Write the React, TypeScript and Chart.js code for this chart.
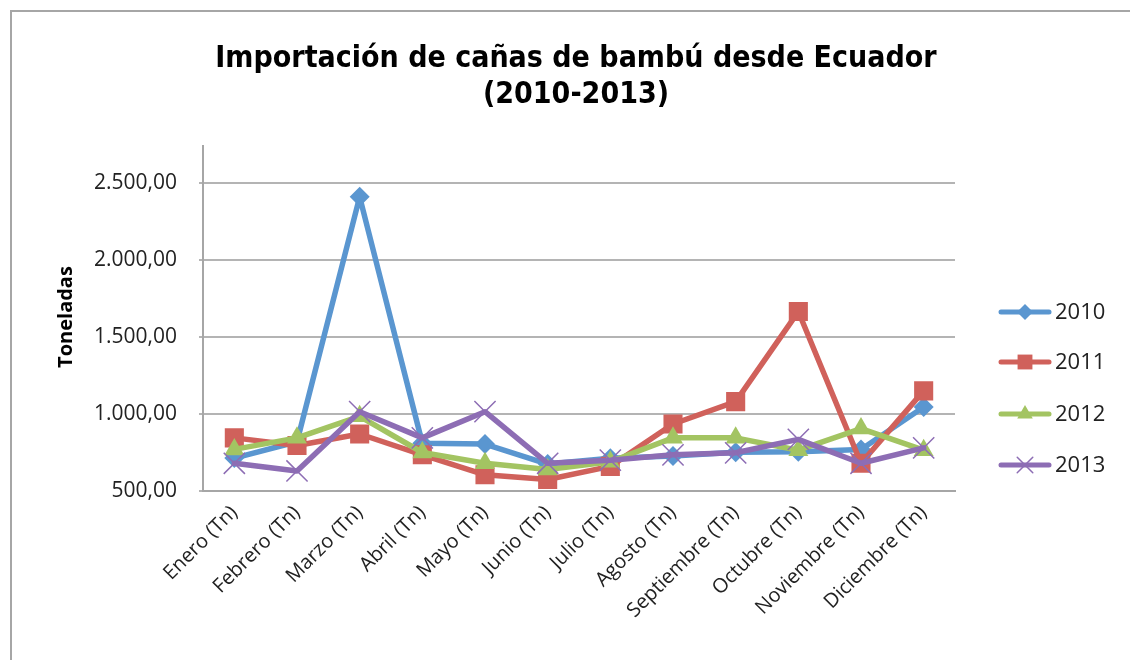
import React, { useEffect, useRef } from 'react';
import { Chart, registerables } from 'chart.js';

Chart.register(...registerables);

const titleLines = ['Importación de cañas de bambú desde Ecuador', '(2010-2013)'];
const yAxisTitle = 'Toneladas';
const months = [
  'Enero (Tn)', 'Febrero (Tn)', 'Marzo (Tn)', 'Abril (Tn)', 'Mayo (Tn)', 'Junio (Tn)',
  'Julio (Tn)', 'Agosto (Tn)', 'Septiembre (Tn)', 'Octubre (Tn)', 'Noviembre (Tn)', 'Diciembre (Tn)',
];
const seriesNames = ['2010', '2011', '2012', '2013'];
const values2010 = [714, 820, 2410, 810, 805, 675, 712, 728, 752, 755, 770, 1045];
const values2011 = [845, 795, 870, 735, 605, 575, 660, 935, 1080, 1665, 680, 1150];
const values2012 = [770, 845, 985, 750, 680, 640, 690, 845, 845, 765, 905, 765];
const values2013 = [680, 630, 1015, 845, 1015, 680, 700, 735, 748, 835, 680, 780];
const yTickValues = [500, 1000, 1500, 2000, 2500];
const yMin = 500;
const yMax = 2740;

const colors = ['#5A96D0', '#D0615B', '#A3C462', '#8D6DB4'];
const pointStyles = ['rectRot', 'rect', 'triangle', 'crossRot'];
const pointRadii = [10, 13.5, 11.5, 15];
const legendRadii = [8, 10.5, 9, 11];

function fmt(v: number): string {
  const fixed = v.toFixed(2);
  const [intPart, dec] = fixed.split('.');
  const grouped = intPart.replace(/\B(?=(\d{3})+(?!\d))/g, '.');
  return grouped + ',' + dec;
}

function drawMarker(ctx: CanvasRenderingContext2D, style: string, r: number, x: number, y: number, color: string) {
  ctx.save();
  ctx.fillStyle = color;
  ctx.strokeStyle = color;
  ctx.beginPath();
  if (style === 'rectRot') {
    ctx.moveTo(x, y - r);
    ctx.lineTo(x + r, y);
    ctx.lineTo(x, y + r);
    ctx.lineTo(x - r, y);
    ctx.closePath();
    ctx.fill();
  } else if (style === 'rect') {
    const s = r * Math.SQRT1_2;
    ctx.rect(x - s, y - s, 2 * s, 2 * s);
    ctx.fill();
  } else if (style === 'triangle') {
    ctx.moveTo(x, y - r);
    ctx.lineTo(x + r * 0.866, y + r * 0.5);
    ctx.lineTo(x - r * 0.866, y + r * 0.5);
    ctx.closePath();
    ctx.fill();
  } else {
    const o = r * Math.SQRT1_2;
    ctx.lineWidth = 1.5;
    ctx.moveTo(x - o, y - o);
    ctx.lineTo(x + o, y + o);
    ctx.moveTo(x - o, y + o);
    ctx.lineTo(x + o, y - o);
    ctx.stroke();
  }
  ctx.restore();
}

const decorPlugin = {
  id: 'decor',
  beforeDraw(chart: any) {
    const ctx = chart.ctx as CanvasRenderingContext2D;
    ctx.save();
    ctx.fillStyle = '#ffffff';
    ctx.fillRect(0, 0, chart.width, chart.height);
    ctx.strokeStyle = '#A6A6A6';
    ctx.lineWidth = 2;
    ctx.beginPath();
    ctx.moveTo(11, chart.height);
    ctx.lineTo(11, 11);
    ctx.lineTo(chart.width, 11);
    ctx.stroke();
    ctx.restore();
  },
  afterDraw(chart: any) {
    const ctx = chart.ctx as CanvasRenderingContext2D;
    ctx.save();
    // title
    ctx.fillStyle = '#000000';
    ctx.textAlign = 'center';
    ctx.textBaseline = 'alphabetic';
    ctx.font = 'bold 30px "DejaVu Sans Condensed", "DejaVu Sans", sans-serif';
    ctx.fillText(titleLines[0], 576, 67);
    ctx.fillText(titleLines[1], 576, 103);
    // y axis title
    ctx.save();
    ctx.translate(66, 317);
    ctx.rotate(-Math.PI / 2);
    ctx.font = 'bold 20px "Open Sans", sans-serif';
    ctx.textBaseline = 'middle';
    ctx.fillText(yAxisTitle, 0, 0);
    ctx.restore();
    // legend
    const legendY = [312, 362, 414, 465];
    seriesNames.forEach((name, i) => {
      const y = legendY[i];
      ctx.strokeStyle = colors[i];
      ctx.lineWidth = 5;
      ctx.lineCap = 'round';
      ctx.beginPath();
      ctx.moveTo(1001, y);
      ctx.lineTo(1049, y);
      ctx.stroke();
      drawMarker(ctx, pointStyles[i], legendRadii[i], 1025, y, colors[i]);
      ctx.fillStyle = '#222222';
      ctx.textAlign = 'left';
      ctx.textBaseline = 'middle';
      ctx.font = '22px "Open Sans", sans-serif';
      ctx.fillText(name, 1055, y + 1);
    });
    ctx.restore();
  },
};

export default function App() {
  const canvasRef = useRef<HTMLCanvasElement | null>(null);

  useEffect(() => {
    if (!canvasRef.current) return;
    const allValues = [values2010, values2011, values2012, values2013];
    const chart = new Chart(canvasRef.current, {
      type: 'line',
      data: {
        labels: months,
        datasets: allValues.map((vals, i) => ({
          label: seriesNames[i],
          data: vals,
          borderColor: colors[i],
          backgroundColor: colors[i],
          borderWidth: 5.5,
          pointStyle: pointStyles[i] as any,
          pointRadius: pointRadii[i],
          pointBorderWidth: i === 3 ? 1.5 : 0,
          pointBorderColor: colors[i],
          pointBackgroundColor: colors[i],
          tension: 0,
          fill: false,
          order: 4 - i,
          borderJoinStyle: 'round' as const,
          borderCapStyle: 'round' as const,
        })),
      },
      options: {
        responsive: false,
        animation: false,
        devicePixelRatio: 1,
        layout: { padding: { left: 0, top: 146, right: 175, bottom: 0 } },
        plugins: {
          legend: { display: false },
          title: { display: false },
          tooltip: { enabled: false },
        },
        scales: {
          x: {
            offset: true,
            grid: { display: false, drawTicks: false },
            border: { display: true, color: '#A6A6A6', width: 2 },
            ticks: {
              minRotation: 45,
              maxRotation: 45,
              padding: 10,
              color: '#222222',
              font: { family: '"Open Sans", sans-serif', size: 20 },
              autoSkip: false,
            },
            afterFit: (scale: any) => {
              scale.height = 169;
            },
          },
          y: {
            min: yMin,
            max: yMax,
            grid: { color: '#B4B4B4', lineWidth: 2, tickLength: 4, drawTicks: true },
            border: { display: true, color: '#A6A6A6', width: 2 },
            ticks: {
              autoSkip: false,
              padding: 22,
              color: '#222222',
              font: { family: '"Open Sans", sans-serif', size: 21 },
              callback: (v: any) => fmt(Number(v)),
            },
            afterBuildTicks: (scale: any) => {
              scale.ticks = yTickValues.map((v) => ({ value: v }));
            },
            afterFit: (scale: any) => {
              scale.width = 203;
            },
          },
        },
      },
      plugins: [decorPlugin],
    });
    return () => chart.destroy();
  }, []);

  return (
    <div style={{ position: 'absolute', left: 0, top: 0, width: 1130, height: 660 }}>
      <canvas ref={canvasRef} width={1130} height={660} style={{ display: 'block' }} />
    </div>
  );
}
